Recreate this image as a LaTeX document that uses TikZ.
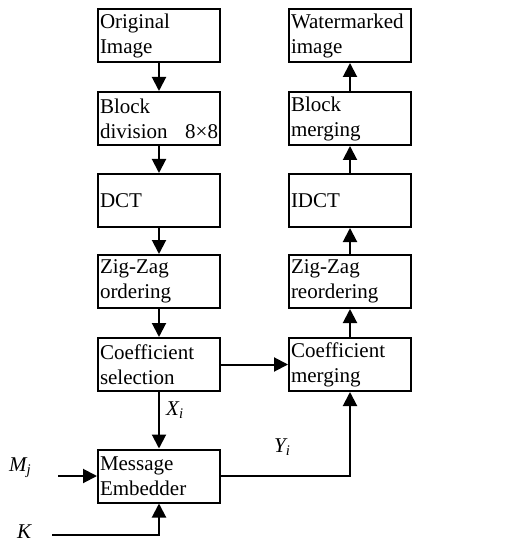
\documentclass[tikz,border=0pt]{standalone}
\usepackage{fontspec}
\setmainfont{Liberation Serif}
\usetikzlibrary{arrows.meta}
\begin{document}
\begin{tikzpicture}[x=1pt,y=1pt,
  stage/.style={draw, line width=2pt, minimum width=122pt, minimum height=53pt,
    text width=118pt, inner sep=2pt, align=left,
    font=\fontsize{21}{25}\selectfont},
  flow/.style={line width=2pt, -{Triangle[length=14pt,width=14pt]}},
  sym/.style={font=\fontsize{21}{25}\selectfont\itshape, inner sep=0pt}]
\useasboundingbox (0,0) rectangle (509,-545);
% analysis chain (left)
\node[stage] (orig) at (159,-35.5) {Original\\Image};
\node[stage] (blk)  at (159,-118.5) {Block\\division\hfill 8×8};
\node[stage] (dct)  at (159,-200.5) {DCT};
\node[stage] (zz)   at (159,-281.5) {Zig-Zag\\ordering};
\node[stage] (csel) at (159,-364.5) {Coefficient\\selection};
\node[stage] (emb)  at (159,-476) {Message\\Embedder};
% synthesis chain (right)
\node[stage] (wm)   at (350,-35.5) {Watermarked\\image};
\node[stage] (bm)   at (350,-118.5) {Block\\merging};
\node[stage] (idct) at (350,-200.5) {IDCT};
\node[stage] (zzr)  at (350,-281.5) {Zig-Zag\\reordering};
\node[stage] (cm)   at (350,-364.5) {Coefficient\\merging};
% symbols
\node[sym, anchor=west] (xi) at (166,-410) {X\textsubscript{i}};
\node[sym, anchor=west] (yi) at (274,-447) {Y\textsubscript{i}};
\node[sym, anchor=west] (mj) at (9,-468) {M\textsubscript{j}};
\node[sym, anchor=west] (k)  at (17,-532) {K};
\coordinate (mjin) at (58,-476);
\coordinate (kin) at (52,-535);
% connectors
\draw[flow] (orig) -- (blk);
\draw[flow] (blk) -- (dct);
\draw[flow] (dct) -- (zz);
\draw[flow] (zz) -- (csel);
\draw[flow] (csel) -- (emb);
\draw[flow] (csel) -- (cm);
\draw[flow] (emb.east) -| (cm.south);
\draw[flow] (mjin) -- (emb.west);
\draw[flow] (kin) -| (emb.south);
\draw[flow] (cm) -- (zzr);
\draw[flow] (zzr) -- (idct);
\draw[flow] (idct) -- (bm);
\draw[flow] (bm) -- (wm);
\end{tikzpicture}
\end{document}
